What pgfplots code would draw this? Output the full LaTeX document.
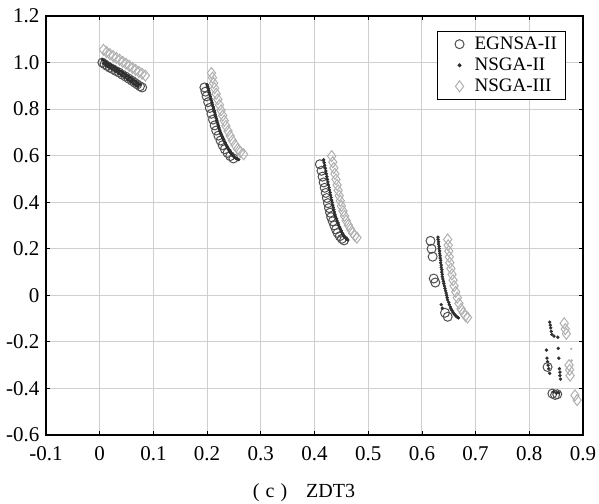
\documentclass[border=0pt]{standalone}
\usepackage{fontspec}
\setmainfont{Liberation Serif}
\usepackage{pgfplots}
\pgfplotsset{compat=1.18}
\definecolor{cE}{HTML}{505050}
\definecolor{cN}{HTML}{2E2E2E}
\definecolor{cT}{HTML}{B0B0B0}
\definecolor{cG}{HTML}{CFCFCF}
\begin{document}
\begin{tikzpicture}
\begin{axis}[
  at={(0,0)}, anchor=south west,
  scale only axis, width=537pt, height=419pt,
  xmin=-0.1, xmax=0.9, ymin=-0.6, ymax=1.2,
  xtick={-0.1,0,0.1,0.2,0.3,0.4,0.5,0.6,0.7,0.8,0.9},
  xticklabels={-0.1,0,0.1,0.2,0.3,0.4,0.5,0.6,0.7,0.8,0.9},
  ytick={-0.6,-0.4,-0.2,0,0.2,0.4,0.6,0.8,1.0,1.2},
  yticklabels={-0.6,-0.4,-0.2,0,0.2,0.4,0.6,0.8,1.0,1.2},
  tick label style={font=\fontsize{21}{22}\selectfont, text=black},
  xticklabel style={yshift=-8pt},
  yticklabel style={xshift=-3pt},
  tick align=inside, major tick length=4pt,
  tick style={black, line width=0.8pt},
  grid=major, major grid style={cG, line width=1pt},
  axis line style={black, line width=1.3pt},
  legend style={at={(0.969,0.965)}, anchor=north east, draw=black, line width=1pt,
    font=\fontsize{19}{20}\selectfont, row sep=3pt, inner xsep=7pt, inner ysep=4pt},
  legend cell align=left,
]
\addlegendimage{legend image code/.code={\path[draw=none,fill=none] (0pt,-1pt) rectangle (28pt,1pt);
  \draw[solid, mark=o, mark size=4.5pt, draw=cE, line width=1pt] plot coordinates {(15pt,0pt)};}}
\addlegendentry{EGNSA-II}
\addlegendimage{legend image code/.code={\path[draw=none,fill=none] (0pt,-1pt) rectangle (28pt,1pt);
  \draw[solid, mark=*, mark size=1.5pt, draw=cN, fill=cN] plot coordinates {(15pt,0pt)};}}
\addlegendentry{NSGA-II}
\addlegendimage{legend image code/.code={\path[draw=none,fill=none] (0pt,-1pt) rectangle (28pt,1pt);
  \draw[solid, mark=diamond, mark size=5.5pt, draw=cT, line width=1pt] plot coordinates {(15pt,0pt)};}}
\addlegendentry{NSGA-III}

% NSGA-III diamonds
\addplot[forget plot, only marks, mark=diamond, mark size=5.5pt, draw=cT, line width=1pt] table {
0.007 1.055
0.013 1.045
0.019 1.036
0.025 1.028
0.031 1.020
0.037 1.012
0.043 1.003
0.049 0.995
0.055 0.986
0.061 0.977
0.067 0.968
0.073 0.960
0.079 0.952
0.085 0.944
0.208 0.955
0.210 0.935
0.212 0.912
0.214 0.890
0.217 0.866
0.220 0.842
0.223 0.818
0.226 0.795
0.229 0.772
0.232 0.750
0.235 0.728
0.239 0.706
0.243 0.685
0.247 0.665
0.252 0.646
0.257 0.629
0.262 0.616
0.268 0.606
0.432 0.598
0.434 0.572
0.436 0.547
0.438 0.522
0.440 0.498
0.442 0.474
0.444 0.451
0.446 0.428
0.448 0.406
0.450 0.384
0.453 0.362
0.456 0.341
0.459 0.321
0.463 0.302
0.467 0.284
0.471 0.268
0.475 0.256
0.479 0.248
0.648 0.240
0.649 0.215
0.650 0.190
0.651 0.165
0.652 0.140
0.654 0.115
0.656 0.090
0.658 0.065
0.660 0.040
0.663 0.015
0.666 -0.010
0.669 -0.035
0.673 -0.058
0.677 -0.075
0.681 -0.088
0.685 -0.095
0.865 -0.120
0.867 -0.145
0.869 -0.165
0.874 -0.300
0.875 -0.320
0.876 -0.345
0.885 -0.430
0.889 -0.450
};
\addplot[forget plot, only marks, mark=*, mark size=1pt, draw=cT, fill=cT] table {
0.878 -0.230
0.879 -0.280
};
% EGNSA-II circles
\addplot[forget plot, only marks, mark=o, mark size=4.5pt, draw=cE, line width=1pt] table {
0.005 1.000
0.009 0.993
0.014 0.985
0.019 0.978
0.024 0.972
0.030 0.964
0.036 0.957
0.042 0.948
0.048 0.940
0.054 0.931
0.060 0.922
0.065 0.914
0.070 0.906
0.075 0.898
0.079 0.893
0.195 0.893
0.197 0.875
0.199 0.855
0.202 0.830
0.205 0.805
0.208 0.780
0.211 0.755
0.214 0.730
0.217 0.708
0.221 0.686
0.225 0.665
0.229 0.645
0.233 0.628
0.238 0.612
0.243 0.598
0.249 0.588
0.410 0.563
0.413 0.535
0.415 0.510
0.417 0.485
0.419 0.462
0.421 0.440
0.423 0.418
0.425 0.396
0.427 0.375
0.429 0.355
0.431 0.336
0.434 0.318
0.437 0.300
0.440 0.283
0.443 0.268
0.447 0.254
0.451 0.243
0.455 0.236
0.616 0.234
0.618 0.200
0.620 0.166
0.622 0.072
0.625 0.055
0.643 -0.075
0.648 -0.092
0.834 -0.308
0.843 -0.422
0.848 -0.428
0.852 -0.425
};
% NSGA-II dots
\addplot[forget plot, only marks, mark=*, mark size=1.5pt, draw=cN, fill=cN] table {
0.005 1.012
0.008 1.007
0.012 1.002
0.015 0.997
0.019 0.992
0.022 0.987
0.026 0.982
0.029 0.977
0.033 0.972
0.036 0.967
0.040 0.962
0.043 0.957
0.047 0.951
0.050 0.946
0.054 0.940
0.057 0.935
0.061 0.929
0.064 0.923
0.068 0.917
0.071 0.911
0.075 0.905
0.007 0.996
0.011 0.990
0.015 0.984
0.019 0.979
0.023 0.973
0.027 0.967
0.031 0.961
0.035 0.955
0.039 0.949
0.043 0.943
0.047 0.937
0.051 0.930
0.055 0.924
0.059 0.917
0.063 0.910
0.067 0.903
0.071 0.897
0.200 0.905
0.201 0.896
0.202 0.888
0.203 0.879
0.204 0.871
0.205 0.862
0.206 0.854
0.207 0.845
0.208 0.837
0.209 0.828
0.210 0.820
0.211 0.811
0.212 0.803
0.213 0.794
0.214 0.786
0.215 0.777
0.216 0.769
0.217 0.760
0.218 0.752
0.219 0.744
0.220 0.736
0.221 0.728
0.222 0.720
0.223 0.712
0.224 0.705
0.225 0.697
0.226 0.690
0.228 0.682
0.229 0.675
0.231 0.668
0.232 0.661
0.234 0.654
0.235 0.647
0.237 0.640
0.238 0.634
0.240 0.628
0.241 0.622
0.243 0.616
0.244 0.611
0.246 0.606
0.247 0.601
0.249 0.597
0.251 0.593
0.253 0.590
0.255 0.587
0.257 0.585
0.259 0.583
0.417 0.582
0.418 0.570
0.419 0.558
0.420 0.546
0.421 0.534
0.422 0.522
0.423 0.510
0.424 0.498
0.425 0.487
0.426 0.475
0.427 0.464
0.428 0.453
0.429 0.442
0.430 0.431
0.431 0.420
0.432 0.409
0.433 0.399
0.434 0.388
0.435 0.378
0.436 0.368
0.437 0.358
0.438 0.348
0.439 0.339
0.441 0.329
0.442 0.320
0.444 0.311
0.445 0.302
0.447 0.293
0.448 0.285
0.450 0.277
0.451 0.270
0.453 0.263
0.454 0.257
0.456 0.251
0.458 0.246
0.460 0.242
0.462 0.238
0.630 0.250
0.630 0.240
0.631 0.230
0.631 0.220
0.632 0.210
0.632 0.200
0.633 0.190
0.633 0.180
0.634 0.170
0.634 0.160
0.635 0.150
0.635 0.140
0.636 0.130
0.636 0.120
0.637 0.110
0.637 0.100
0.638 0.090
0.638 0.080
0.639 0.070
0.640 0.060
0.641 0.050
0.642 0.040
0.643 0.030
0.644 0.020
0.645 0.010
0.646 0.000
0.647 -0.010
0.648 -0.020
0.650 -0.030
0.651 -0.040
0.653 -0.050
0.654 -0.058
0.656 -0.065
0.658 -0.073
0.660 -0.080
0.662 -0.085
0.664 -0.090
0.666 -0.094
0.668 -0.097
0.636 -0.040
0.638 -0.055
0.838 -0.115
0.839 -0.128
0.840 -0.140
0.841 -0.155
0.842 -0.168
0.846 -0.175
0.853 -0.180
0.832 -0.235
0.854 -0.228
0.855 -0.270
0.833 -0.270
0.834 -0.285
0.835 -0.300
0.836 -0.315
0.838 -0.335
0.856 -0.315
0.857 -0.330
0.857 -0.345
0.858 -0.360
0.845 -0.415
0.850 -0.420
0.855 -0.418
};
\end{axis}
\node[anchor=center, font=\fontsize{20}{22}\selectfont] at (258pt,-57.5pt)
  {(\hspace{6pt}c\hspace{6pt})\hspace{19pt}ZDT3};
\pgfresetboundingbox
\path[use as bounding box] (-46pt,-68pt) rectangle (553pt,435pt);
\end{tikzpicture}
\end{document}
